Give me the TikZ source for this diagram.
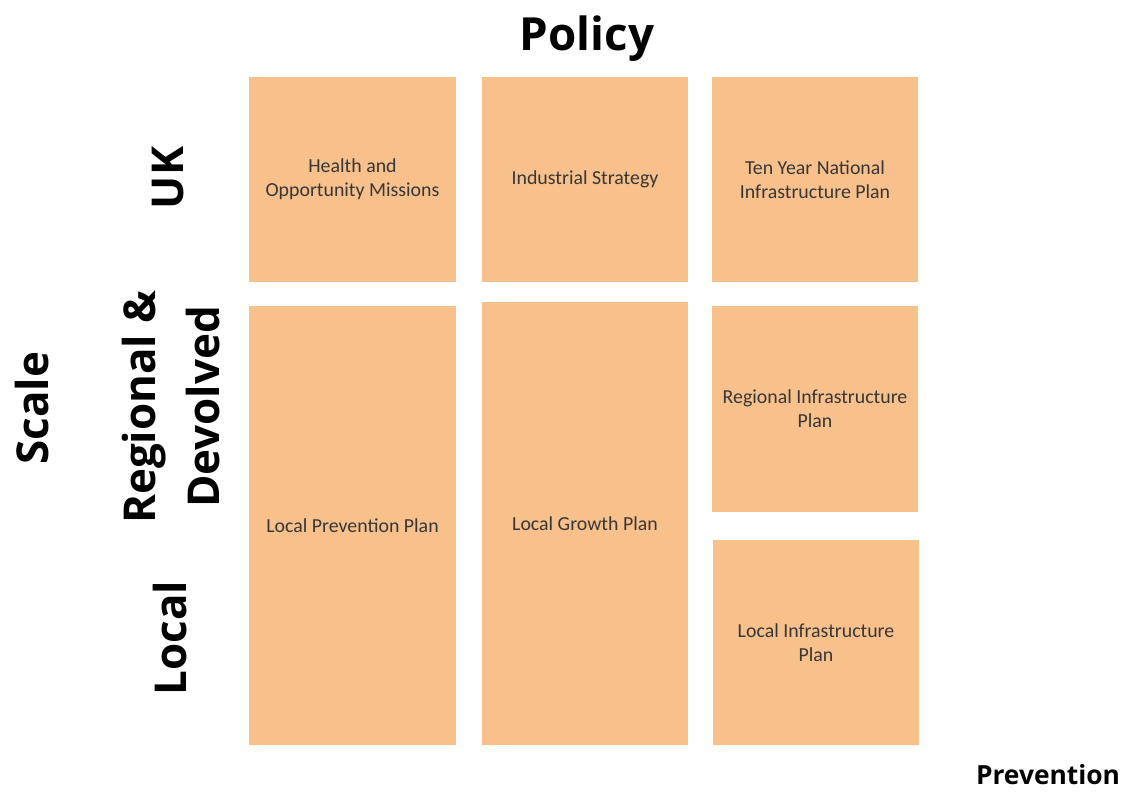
\documentclass[tikz,border=0pt]{standalone}
\usepackage{fontspec}
\setmainfont{Carlito}
\newfontfamily\headfont{Open Sans}
\usetikzlibrary{calc}
\definecolor{planfill}{RGB}{248,192,139}
\definecolor{plantext}{RGB}{55,55,55}

\begin{document}
\begin{tikzpicture} [x=0.02cm, y=-0.02cm,
  plan/.style={fill=planfill, draw=none, text=plantext, align=center,
    font=\fontsize{11.3}{13.6}\selectfont, inner sep=0pt},
  head/.style={font=\headfont\bfseries\fontsize{26}{30}\selectfont, align=center},
  axis/.style={font=\headfont\bfseries\fontsize{25}{36}\selectfont, align=center, rotate=90}]
\useasboundingbox (0,0) rectangle (1131,792);
% top row
\node[plan, minimum width=207*0.02cm, minimum height=205*0.02cm] (hom) at (352.5,179.5) {Health and\\Opportunity Missions};
\node[plan, minimum width=206*0.02cm, minimum height=205*0.02cm] (ind) at (585,179.5) {Industrial Strategy};
\node[plan, minimum width=206*0.02cm, minimum height=205*0.02cm] (tyn) at (815,179.5) {Ten Year National\\Infrastructure Plan};
% tall columns
\node[plan, minimum width=207*0.02cm, minimum height=439*0.02cm] (lpp) at (352.5,525.5) {Local Prevention Plan};
\node[plan, minimum width=206*0.02cm, minimum height=443*0.02cm] (lgp) at (585,523.5) {Local Growth Plan};
% infrastructure column
\node[plan, minimum width=206*0.02cm, minimum height=206*0.02cm] (rip) at (815,409) {Regional Infrastructure\\Plan};
\node[plan, minimum width=206*0.02cm, minimum height=205*0.02cm] (lip) at (816,642.5) {Local Infrastructure\\Plan};
% axis labels
\node[head] (policy) at (587,39) {Policy};
\node[font=\headfont\bfseries\fontsize{15}{18}\selectfont, inner sep=0pt] (prevention) at (1048,775) {Prevention};
\node[axis] (scale) at (32,408) {Scale};
\node[axis] (uk) at (168,178) {UK};
\node[axis] (regional) at (171,407) {Regional \&\\Devolved};
\node[axis] (local) at (170,638) {Local};
\end{tikzpicture}
\end{document}
